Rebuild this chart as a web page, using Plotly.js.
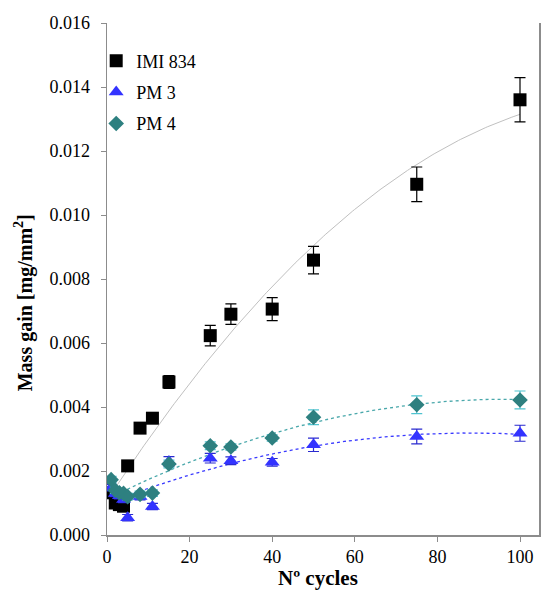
<!DOCTYPE html>
<html>
<head>
<meta charset="utf-8">
<script src="https://cdn.plot.ly/plotly-3.0.1.min.js"></script>
<style>html,body{margin:0;padding:0;background:#fff;}#chart{width:541px;height:594px;}</style>
</head>
<body>
<div id="chart"></div>
<script>
// ---- data ----
const cycles = [1, 2, 3, 4, 5, 8, 11, 15, 25, 30, 40, 50, 75, 100];
const imi834 = [0.00132, 0.00100, 0.00095, 0.00090, 0.00216, 0.00334, 0.00365, 0.00478, 0.00623, 0.00690, 0.00706, 0.00859, 0.01096, 0.01360];
const imi834Err = [0.0001, 0.0001, 0.0001, 0.0001, 0.0001, 0.0001, 0.0001, 0.0002, 0.00032, 0.00032, 0.00036, 0.00043, 0.00054, 0.00069];
const pm3 = [0.00148, 0.00130, 0.00123, 0.00111, 0.00054, 0.00120, 0.00089, 0.00230, 0.00240, 0.00232, 0.00227, 0.00282, 0.00308, 0.00318];
const pm3Err = [0.0001, 0.0001, 0.0001, 0.0001, 0.0001, 0.0001, 0.0001, 0.00015, 0.00015, 0.00012, 0.00012, 0.00021, 0.00023, 0.00025];
const pm4 = [0.00173, 0.00140, 0.00132, 0.00130, 0.00120, 0.00127, 0.00131, 0.00222, 0.00279, 0.00275, 0.00303, 0.00368, 0.00407, 0.00422];
const pm4Err = [0.0001, 0.0001, 0.0001, 0.0001, 0.0001, 0.0001, 0.0001, 0.00012, 0.00012, 0.0001, 0.0001, 0.00023, 0.00028, 0.00028];
const seriesNames = ["IMI 834", "PM 3", "PM 4"];
const xTicks = [0, 20, 40, 60, 80, 100];
const yTicks = [0, 0.002, 0.004, 0.006, 0.008, 0.010, 0.012, 0.014, 0.016];
const xTitle = "<b>Nº cycles</b>";
const yTitle = "<b>Mass gain [mg/mm<sup>2</sup>]</b>";

// least-squares polynomial (order 2) trendline, like a spreadsheet trendline
function quadFit(xs, ys) {
  let S = [0,0,0,0,0], T = [0,0,0];
  for (let i = 0; i < xs.length; i++) {
    let p = 1;
    for (let k = 0; k < 5; k++) { S[k] += p; if (k < 3) T[k] += p * ys[i]; p *= xs[i]; }
  }
  const A = [[S[0],S[1],S[2],T[0]],[S[1],S[2],S[3],T[1]],[S[2],S[3],S[4],T[2]]];
  for (let c = 0; c < 3; c++) {
    for (let r = c + 1; r < 3; r++) {
      const f = A[r][c] / A[c][c];
      for (let k = c; k < 4; k++) A[r][k] -= f * A[c][k];
    }
  }
  const co = [0,0,0];
  for (let r = 2; r >= 0; r--) {
    let s = A[r][3];
    for (let k = r + 1; k < 3; k++) s -= A[r][k] * co[k];
    co[r] = s / A[r][r];
  }
  return co;
}
function trend(xs, ys) {
  const co = quadFit(xs, ys);
  const x0 = Math.min(...xs), x1 = Math.max(...xs);
  const tx = [], ty = [];
  for (let i = 0; i <= 200; i++) {
    const x = x0 + (x1 - x0) * i / 200;
    tx.push(x); ty.push(co[0] + co[1] * x + co[2] * x * x);
  }
  return {x: tx, y: ty};
}

const serif = '"Liberation Serif", "Times New Roman", serif';
const tI = trend(cycles, imi834), t3 = trend(cycles, pm3), t4 = trend(cycles, pm4);

const traces = [
  {x: tI.x, y: tI.y, mode: 'lines', line: {color: '#c0c0c0', width: 1}, showlegend: false, hoverinfo: 'skip'},
  {x: t3.x, y: t3.y, mode: 'lines', line: {color: '#3a3aff', width: 1.3, dash: 'dot'}, showlegend: false, hoverinfo: 'skip'},
  {x: t4.x, y: t4.y, mode: 'lines', line: {color: '#4aa8ab', width: 1.3, dash: 'dot'}, showlegend: false, hoverinfo: 'skip'},
  {x: cycles, y: imi834, name: seriesNames[0], legendgroup: 'g1', mode: 'markers', type: 'scatter',
   marker: {symbol: 'square', size: 13, color: '#000000'},
   error_y: {type: 'data', array: imi834Err, visible: true, color: '#000000', thickness: 1.2, width: 5.5}},
  {x: cycles, y: pm3, name: seriesNames[1], legendgroup: 'g2', mode: 'markers', type: 'scatter',
   marker: {symbol: 'triangle-up', size: 13, color: '#3333ff'},
   error_y: {type: 'data', array: pm3Err, visible: true, color: '#2a2ad0', thickness: 1.2, width: 5.5}},
  {x: cycles, y: pm4, name: seriesNames[2], legendgroup: 'g3', mode: 'markers', type: 'scatter',
   marker: {symbol: 'diamond', size: 12, color: '#2e8080'},
   error_y: {type: 'data', array: pm4Err, visible: true, color: '#4fc3d0', thickness: 1.2, width: 5.5}}
];

const layout = {
  width: 541, height: 594,
  margin: {l: 107, r: 2, t: 23, b: 59},
  paper_bgcolor: '#ffffff', plot_bgcolor: '#ffffff',
  font: {family: serif, size: 18, color: '#000000'},
  showlegend: true,
  legend: {x: -0.025, y: 0.962, xanchor: 'left', yanchor: 'top', bgcolor: 'rgba(0,0,0,0)',
           traceorder: 'grouped', tracegroupgap: 5,
           font: {family: serif, size: 18, color: '#000'}},
  xaxis: {
    range: [0, 104.6], tickvals: xTicks, ticktext: xTicks.map(String),
    showgrid: false, zeroline: false, showline: true, linecolor: '#8c8c8c', linewidth: 1.5,
    ticks: 'outside', ticklen: 5, tickcolor: '#8c8c8c', tickwidth: 1,
    tickfont: {family: serif, size: 18}
  },
  yaxis: {
    range: [0, 0.016], tickvals: yTicks, ticktext: yTicks.map(v => v.toFixed(3)),
    showgrid: false, zeroline: false, showline: true, linecolor: '#8c8c8c', linewidth: 1.5, mirror: true,
    ticks: 'outside', ticklen: 5, tickcolor: '#8c8c8c', tickwidth: 1, ticklabelstandoff: 7,
    tickfont: {family: serif, size: 18}
  },
  annotations: [
    {text: xTitle, xref: 'paper', yref: 'paper', x: 0.488, y: -0.084, xanchor: 'center', yanchor: 'middle',
     showarrow: false, font: {family: serif, size: 21, color: '#000'}},
    {text: yTitle, xref: 'paper', yref: 'paper', x: -0.194, y: 0.453, xanchor: 'center', yanchor: 'middle',
     textangle: -90, showarrow: false, font: {family: serif, size: 20, color: '#000'}}
  ]
};

Plotly.newPlot('chart', traces, layout, {displayModeBar: false, staticPlot: true});
</script>
</body>
</html>
